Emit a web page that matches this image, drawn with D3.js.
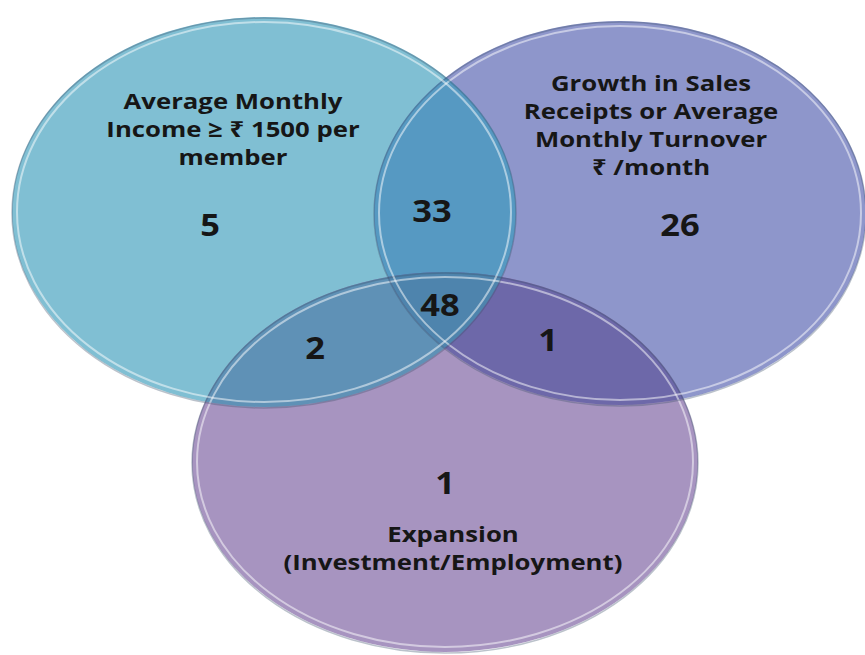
<!DOCTYPE html>
<html>
<head>
<meta charset="utf-8">
<script src="https://cdn.jsdelivr.net/npm/d3@7"></script>
<style>
  body { margin: 0; background: #fff; }
  text { font-family: "Open Sans", "Noto Sans", sans-serif; font-weight: bold; fill: #161616; }
</style>
</head>
<body>
<div id="venn"></div>
<script>
// sets and their labels
var setKeys = ["A", "B", "C"];
var setLabels = [
  ["Average Monthly", "Income \u2265 \u20B9 1500 per", "member"],
  ["Growth in Sales", "Receipts or Average", "Monthly Turnover", "\u20B9 /month"],
  ["Expansion", "(Investment/Employment)"]
];
// region counts
var regionKeys = ["A", "B", "C", "AB", "AC", "BC", "ABC"];
var regionCounts = [5, 26, 1, 33, 2, 1, 48];

var width = 865, height = 655;

var svg = d3.select("#venn").append("svg")
  .attr("width", width)
  .attr("height", height);

// layout of the three ellipses (in px)
var ell = {
  A: { cx: 264, cy: 212, rx: 252, ry: 195 },
  B: { cx: 620, cy: 213, rx: 246, ry: 192 },
  C: { cx: 445, cy: 462, rx: 253, ry: 190 }
};
var fills = {
  A: "#80bfd3", B: "#8e96cb", C: "#a794c0",
  AB: "#5699c2", AC: "#5f91b6", BC: "#6d68a9", ABC: "#4e84ad"
};
// where each count sits
var regionPos = {
  A: [210, 225], B: [680, 225], C: [445, 483],
  AB: [432, 211], AC: [315, 348], BC: [548, 340], ABC: [440, 305]
};
var labelPos = { A: [233, 101], B: [651, 83], C: [453, 534] };
var lineH = { A: 28, B: 28, C: 28.5 };
var stretch = 1.17; // the source text is a bit wide

var defs = svg.append("defs");
setKeys.forEach(function (k) {
  defs.append("clipPath").attr("id", "clip" + k)
    .append("ellipse")
    .attr("cx", ell[k].cx).attr("cy", ell[k].cy)
    .attr("rx", ell[k].rx).attr("ry", ell[k].ry);
});

function addEllipse(sel, k, fill) {
  return sel.append("ellipse")
    .attr("cx", ell[k].cx).attr("cy", ell[k].cy)
    .attr("rx", ell[k].rx).attr("ry", ell[k].ry)
    .attr("fill", fill);
}

var g = svg.append("g");

// base fills
setKeys.forEach(function (k) { addEllipse(g, k, fills[k]); });

// overlaps
addEllipse(g.append("g").attr("clip-path", "url(#clipA)"), "B", fills.AB);
addEllipse(g.append("g").attr("clip-path", "url(#clipA)"), "C", fills.AC);
addEllipse(g.append("g").attr("clip-path", "url(#clipB)"), "C", fills.BC);
addEllipse(g.append("g").attr("clip-path", "url(#clipA)")
  .append("g").attr("clip-path", "url(#clipB)"), "C", fills.ABC);

// glassy rims
["C", "B", "A"].forEach(function (k) {
  var e = ell[k];
  g.append("ellipse")
    .attr("cx", e.cx).attr("cy", e.cy + 1)
    .attr("rx", e.rx).attr("ry", e.ry)
    .attr("fill", "none")
    .attr("stroke", "#3d4f6a").attr("stroke-opacity", 0.35)
    .attr("stroke-width", 1.5);
  g.append("ellipse")
    .attr("cx", e.cx).attr("cy", e.cy)
    .attr("rx", e.rx - 5).attr("ry", e.ry - 5)
    .attr("fill", "none")
    .attr("stroke", "#ffffff").attr("stroke-opacity", 0.5)
    .attr("stroke-width", 2);
});

// set labels
setKeys.forEach(function (k, i) {
  var t = svg.append("text")
    .attr("text-anchor", "middle")
    .attr("transform", "translate(" + labelPos[k][0] + "," + labelPos[k][1] + ") scale(" + stretch + ",1)")
    .style("font-size", "22px");
  t.selectAll("tspan").data(setLabels[i]).enter().append("tspan")
    .attr("x", 0)
    .attr("y", function (d, j) { return j * lineH[k]; })
    .attr("dy", "0.35em")
    .text(function (d) { return d; });
});

// counts
svg.selectAll("text.count")
  .data(regionKeys)
  .enter().append("text")
  .attr("class", "count")
  .attr("text-anchor", "middle")
  .attr("dy", "0.36em")
  .attr("transform", function (d) {
    return "translate(" + regionPos[d][0] + "," + regionPos[d][1] + ") scale(1.15,1)";
  })
  .style("font-size", "30px")
  .text(function (d, i) { return regionCounts[i]; });
</script>
</body>
</html>
